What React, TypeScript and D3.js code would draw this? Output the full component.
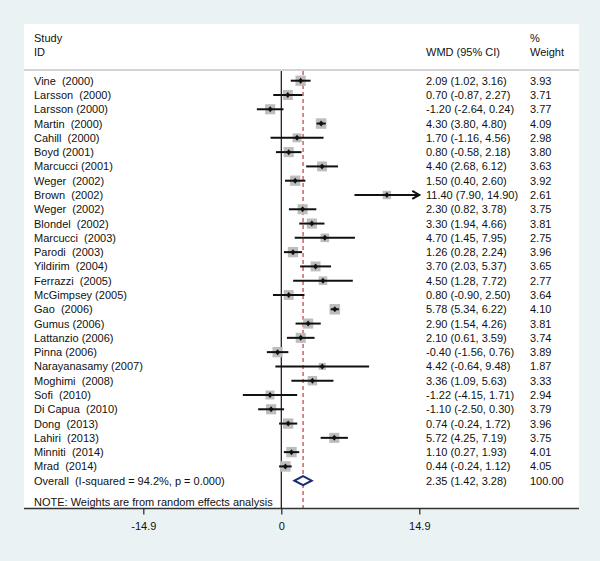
import React, { useEffect, useRef } from 'react'
import * as d3 from 'd3'

// study labels, as printed (double spaces kept)
const studies = [
  'Vine  (2000)', 'Larsson  (2000)', 'Larsson (2000)', 'Martin  (2000)', 'Cahill  (2000)',
  'Boyd (2001)', 'Marcucci (2001)', 'Weger  (2002)', 'Brown  (2002)', 'Weger  (2002)',
  'Blondel  (2002)', 'Marcucci  (2003)', 'Parodi  (2003)', 'Yildirim  (2004)', 'Ferrazzi  (2005)',
  'McGimpsey (2005)', 'Gao  (2006)', 'Gumus (2006)', 'Lattanzio (2006)', 'Pinna (2006)',
  'Narayanasamy (2007)', 'Moghimi  (2008)', 'Sofi  (2010)', 'Di Capua  (2010)', 'Dong  (2013)',
  'Lahiri  (2013)', 'Minniti  (2014)', 'Mrad  (2014)',
]
const wmd = [2.09, 0.70, -1.20, 4.30, 1.70, 0.80, 4.40, 1.50, 11.40, 2.30, 3.30, 4.70, 1.26, 3.70, 4.50,
  0.80, 5.78, 2.90, 2.10, -0.40, 4.42, 3.36, -1.22, -1.10, 0.74, 5.72, 1.10, 0.44]
const lower = [1.02, -0.87, -2.64, 3.80, -1.16, -0.58, 2.68, 0.40, 7.90, 0.82, 1.94, 1.45, 0.28, 2.03, 1.28,
  -0.90, 5.34, 1.54, 0.61, -1.56, -0.64, 1.09, -4.15, -2.50, -0.24, 4.25, 0.27, -0.24]
const upper = [3.16, 2.27, 0.24, 4.80, 4.56, 2.18, 6.12, 2.60, 14.90, 3.78, 4.66, 7.95, 2.24, 5.37, 7.72,
  2.50, 6.22, 4.26, 3.59, 0.76, 9.48, 5.63, 1.71, 0.30, 1.72, 7.19, 1.93, 1.12]
const weights = [3.93, 3.71, 3.77, 4.09, 2.98, 3.80, 3.63, 3.92, 2.61, 3.75, 3.81, 2.75, 3.96, 3.65, 2.77,
  3.64, 4.10, 3.81, 3.74, 3.89, 1.87, 3.33, 2.94, 3.79, 3.96, 3.75, 4.01, 4.05]

const overallLabel = 'Overall  (I-squared = 94.2%, p = 0.000)'
const overall = { est: 2.35, lo: 1.42, hi: 3.28, weight: 100.0 }
const tickValues = [-14.9, 0, 14.9]
const tickLabels = ['-14.9', '0', '14.9']

const W = 600, H = 561
const font = '"Liberation Sans", Arial, sans-serif'

export default function App() {
  const axisRef = useRef<SVGGElement>(null)

  const x = d3.scaleLinear().domain([-14.9, 14.9]).range([143.3, 419.3])
  const y = d3.scalePoint<number>().domain(d3.range(studies.length + 1)).range([80.7, 480.7])
  const box = d3.scaleSqrt().domain([0, 4.1]).range([0, 10.5])
  const f2 = d3.format('.2f')
  const fmt = (v: number) => f2(v).replace('−', '-')
  const panel = { left: 24, top: 24, right: 579, bottom: 508.5 }

  useEffect(() => {
    if (!axisRef.current) return
    const g = d3.select(axisRef.current)
    g.selectAll('*').remove()
    g.call(d3.axisBottom(x).tickValues(tickValues).tickSize(6).tickPadding(8)
      .tickFormat((_, i) => tickLabels[i]))
    g.select('.domain').remove()
    g.selectAll('.tick line').attr('stroke', '#222').attr('stroke-width', 1.2)
    g.selectAll('.tick text').attr('fill', '#111').attr('font-size', 11).attr('font-family', font)
  }, [])

  const txt = { fontFamily: font, fontSize: 11, fill: '#111', whiteSpace: 'pre' as const }
  const xMin = x.domain()[0], xMax = x.domain()[1]

  return (
    <svg width={W} height={H} style={{ position: 'absolute', left: 0, top: 0 }}>
      <rect width={W} height={H} fill="#eaf2f3" />
      <rect x={panel.left} y={panel.top} width={panel.right - panel.left} height={panel.bottom - panel.top} fill="#fff" />

      {/* header */}
      <text x={34} y={42} style={txt}>Study</text>
      <text x={34} y={56} style={txt}>ID</text>
      <text x={426} y={56} style={txt}>WMD (95% CI)</text>
      <text x={530} y={42} style={txt}>%</text>
      <text x={530} y={56} style={txt}>Weight</text>
      <line x1={panel.left} x2={panel.right} y1={70} y2={70} stroke="#c4c4c4" strokeWidth={1.5} />

      {/* null line + overall line */}
      <line x1={x(0)} x2={x(0)} y1={71} y2={panel.bottom} stroke="#111" strokeWidth={1.2} />
      <line x1={x(overall.est)} x2={x(overall.est)} y1={71} y2={panel.bottom} stroke="#c0282e" strokeWidth={1.1} strokeDasharray="4,3" />

      {studies.map((s, i) => {
        const cy = y(i) as number
        const b = box(weights[i])
        const hi = Math.min(upper[i], xMax), lo = Math.max(lower[i], xMin)
        const clipped = upper[i] >= xMax
        const cx = x(wmd[i])
        return (
          <g key={i}>
            <rect x={cx - b / 2} y={cy - b / 2} width={b} height={b} fill="#bdbdbd" />
            <line x1={x(lo)} x2={x(hi)} y1={cy} y2={cy} stroke="#111" strokeWidth={2} />
            {clipped && (
              <path d={`M${x(hi) - 7},${cy - 4} L${x(hi)},${cy} L${x(hi) - 7},${cy + 4}`} fill="none" stroke="#111" strokeWidth={2} />
            )}
            <path d={`M${cx},${cy - 3} L${cx + 2.5},${cy} L${cx},${cy + 3} L${cx - 2.5},${cy} Z`} fill="#111" />
            <text x={34} y={cy + 4} style={txt}>{s}</text>
            <text x={426} y={cy + 4} style={txt}>{`${fmt(wmd[i])} (${fmt(lower[i])}, ${fmt(upper[i])})`}</text>
            <text x={530} y={cy + 4} style={txt}>{fmt(weights[i])}</text>
          </g>
        )
      })}

      {/* overall */}
      {(() => {
        const cy = y(studies.length) as number
        return (
          <g>
            <path d={`M${x(overall.lo)},${cy} L${x(overall.est)},${cy - 4.5} L${x(overall.hi)},${cy} L${x(overall.est)},${cy + 4.5} Z`}
              fill="#fff" stroke="#1a2a7a" strokeWidth={2} />
            <text x={34} y={cy + 4} style={txt}>{overallLabel}</text>
            <text x={426} y={cy + 4} style={txt}>{`${fmt(overall.est)} (${fmt(overall.lo)}, ${fmt(overall.hi)})`}</text>
            <text x={530} y={cy + 4} style={txt}>{fmt(overall.weight)}</text>
          </g>
        )
      })()}
      <text x={34} y={505.5} style={txt}>NOTE: Weights are from random effects analysis</text>

      {/* axis */}
      <line x1={panel.left} x2={panel.right} y1={panel.bottom} y2={panel.bottom} stroke="#333" strokeWidth={1.5} />
      <g ref={axisRef} transform={`translate(0,${panel.bottom})`} />
    </svg>
  )
}
